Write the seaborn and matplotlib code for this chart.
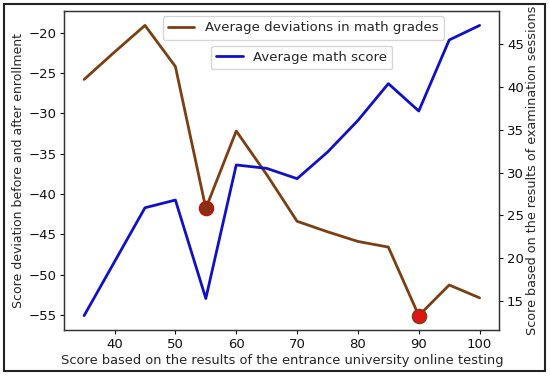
import matplotlib
matplotlib.use("Agg")
import matplotlib.pyplot as plt
import pandas as pd
import seaborn as sns
from matplotlib.patches import Rectangle

entrance_score = [35, 40, 45, 50, 55, 60, 65, 70, 75, 80, 85, 90, 95, 100]
deviation = [-25.8, -22.4, -19.1, -24.2, -41.8, -32.2, -37.6, -43.4,
             -44.7, -45.9, -46.6, -55.1, -51.3, -52.9]
math_score = [13.3, 19.6, 25.9, 26.8, 15.3, 30.9, 30.5, 29.3,
              32.4, 36.1, 40.4, 37.2, 45.5, 47.2]
min_points_x = [55, 90]

df = pd.DataFrame({"x": entrance_score, "dev": deviation, "score": math_score})

sns.set_theme(style="ticks")
plt.rcParams["font.family"] = ["DejaVu Sans"]
fs = 9.5

brown = "#7b3f12"
blue = "#1010c8"

fig = plt.figure(figsize=(5.5, 3.76), dpi=100)
ax = fig.add_axes([0.117, 0.122, 0.791, 0.849])
ax2 = ax.twinx()

sns.lineplot(data=df, x="x", y="dev", ax=ax, color=brown, linewidth=2,
             label="Average deviations in math grades", legend=False)
sns.lineplot(data=df, x="x", y="score", ax=ax2, color=blue, linewidth=2,
             label="Average math score", legend=False)

mins = df[df["x"].isin(min_points_x)]
ax.plot(mins["x"].iloc[:1], mins["dev"].iloc[:1], "o", ms=10,
        mfc="#8a3010", mec="#c01010", mew=1.2, zorder=5)
ax.plot(mins["x"].iloc[1:], mins["dev"].iloc[1:], "o", ms=10,
        mfc="#e01515", mec="#8a3a10", mew=1.2, zorder=5)

ax.set_xlabel("Score based on the results of the entrance university online testing",
              fontsize=9.4, labelpad=2)
ax.set_ylabel("Score deviation before and after enrollment", fontsize=9.0, labelpad=2.5)
ax2.set_ylabel("Score based on the results of examination sessions", fontsize=9.2,
               labelpad=1.5)

for a in (ax, ax2):
    a.tick_params(labelsize=fs, length=3, width=0.8, pad=2.5, colors="#111111")
    for s in a.spines.values():
        s.set_color("#333333")
        s.set_linewidth(0.9)

h_dev = ax.get_lines()[0]
h_score = ax2.get_lines()[0]
leg1 = ax2.legend(handles=[h_dev], loc="upper left", bbox_to_anchor=(0.226, 0.984),
                  borderaxespad=0, fontsize=fs, handlelength=2)
ax2.add_artist(leg1)
ax2.legend(handles=[h_score], loc="upper left", bbox_to_anchor=(0.337, 0.891),
           borderaxespad=0, fontsize=fs, handlelength=2)

fig.patches.append(Rectangle((0.0075, 0.0135), 0.9835, 0.9757, transform=fig.transFigure,
                             fill=False, edgecolor="#222222", linewidth=1.5))

fig.savefig("out.png", dpi=100)
